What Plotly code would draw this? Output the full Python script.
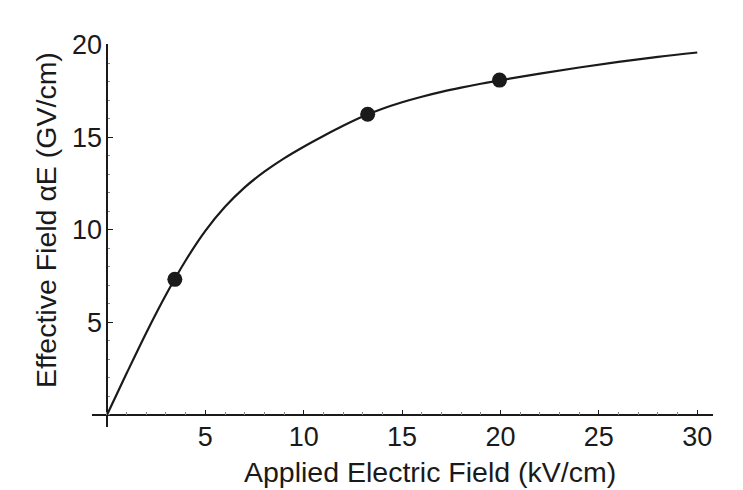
import plotly.graph_objects as go

# Curve
curve_x = [0, 1, 2, 3, 4, 5, 6, 7, 8, 9, 10, 11, 12, 13, 14, 15, 16, 17, 18, 19, 20, 22, 24, 26, 28, 30]
curve_y = [0, 2.25, 4.45, 6.5, 8.35, 9.95, 11.25, 12.3, 13.15, 13.87, 14.5, 15.08, 15.63, 16.13, 16.55,
           16.9, 17.2, 17.46, 17.69, 17.9, 18.09, 18.45, 18.78, 19.08, 19.35, 19.59]

# Measured points
point_x = [3.45, 13.25, 19.95]
point_y = [7.33, 16.25, 18.1]

x_ticks = [5, 10, 15, 20, 25, 30]
y_ticks = [5, 10, 15, 20]

x_range = [-0.76, 30.8]
y_range = [-0.65, 20.05]

x_title = "Applied Electric Field (kV/cm)"
y_title = "Effective Field αE (GV/cm)"

FONT = "Liberation Sans, Arial, Helvetica, sans-serif"
INK = "#1a1a1a"

fig = go.Figure()
fig.add_trace(go.Scatter(x=curve_x, y=curve_y, mode="lines",
                         line=dict(color=INK, width=2.2, shape="spline", smoothing=1.0),
                         hoverinfo="skip", showlegend=False))
fig.add_trace(go.Scatter(x=point_x, y=point_y, mode="markers",
                         marker=dict(color=INK, size=15, line=dict(width=0)),
                         showlegend=False))

xpos = (0 - y_range[0]) / (y_range[1] - y_range[0])
ypos = (0 - x_range[0]) / (x_range[1] - x_range[0])

fig.update_layout(
    width=743, height=490,
    margin=dict(l=92, r=30, t=44, b=63),
    paper_bgcolor="white", plot_bgcolor="white",
    font=dict(family=FONT, size=27, color=INK),
    xaxis=dict(range=x_range, anchor="free", position=xpos,
               showgrid=False, showline=False,
               zeroline=True, zerolinecolor=INK, zerolinewidth=2,
               tickmode="array", tickvals=x_ticks, ticktext=[str(v) for v in x_ticks],
               ticks="inside", ticklen=5, tickwidth=1.2, tickcolor=INK,
               minor=dict(dtick=1, ticks="inside", ticklen=2.5, tickwidth=0.8, tickcolor="#888"),
               tickfont=dict(family=FONT, size=27, color=INK), ticklabelstandoff=3),
    yaxis=dict(range=y_range, anchor="free", position=ypos,
               showgrid=False, showline=False,
               zeroline=True, zerolinecolor=INK, zerolinewidth=2,
               tickmode="array", tickvals=y_ticks, ticktext=[str(v) for v in y_ticks],
               ticks="inside", ticklen=5, tickwidth=1.2, tickcolor=INK,
               minor=dict(dtick=1, ticks="inside", ticklen=2.5, tickwidth=0.8, tickcolor="#888"),
               tickfont=dict(family=FONT, size=27, color=INK), ticklabelstandoff=5),
    annotations=[
        dict(text=x_title, xref="paper", yref="paper", x=(430 - 92) / 621, y=-(472 - 427) / 383,
             xanchor="center", yanchor="middle", showarrow=False,
             font=dict(family=FONT, size=28.5, color=INK)),
        dict(text=y_title, xref="paper", yref="paper", x=-(92 - 46) / 621, y=(427 - 220) / 383,
             xanchor="center", yanchor="middle", textangle=-90, showarrow=False,
             font=dict(family=FONT, size=28.5, color=INK)),
    ],
)

fig.write_html("out.html")
